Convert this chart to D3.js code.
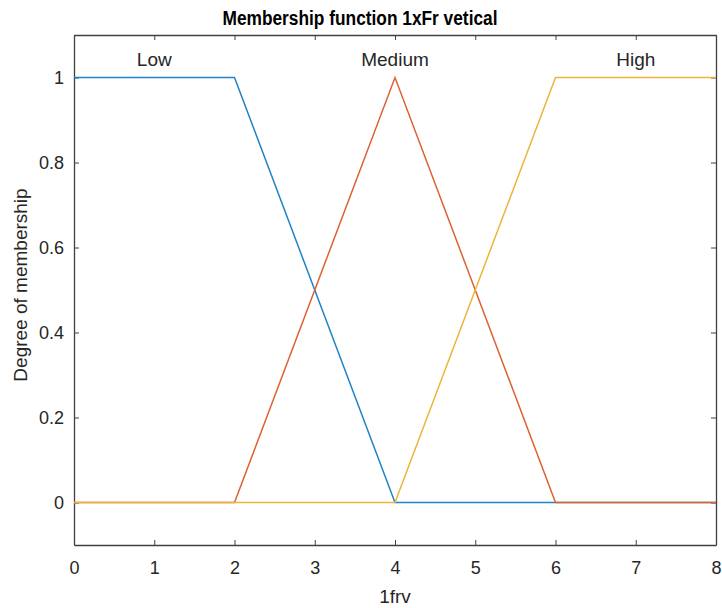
<!DOCTYPE html>
<html>
<head>
<meta charset="utf-8">
<script src="https://cdn.jsdelivr.net/npm/d3@7"></script>
<style>
  body { margin: 0; background: #fff; }
  text { font-family: "Liberation Sans", Arial, sans-serif; fill: #262626; }
</style>
</head>
<body>
<svg width="722" height="608"></svg>
<script>
var mfNames = ["Low", "Medium", "High"];
var mfColors = ["#1F83C9", "#DE6130", "#EDB43A"];
var mfLabelX = [1, 4, 7];
var lowPts = [[0, 1], [2, 1], [4, 0], [8, 0]];
var medPts = [[0, 0], [2, 0], [4, 1], [6, 0], [8, 0]];
var highPts = [[0, 0], [4, 0], [6, 1], [8, 1]];
var xTicks = [0, 1, 2, 3, 4, 5, 6, 7, 8];
var yTicks = [0, 0.2, 0.4, 0.6, 0.8, 1];

var svg = d3.select("svg"),
    margin = {top: 35, right: 6, bottom: 63, left: 74},
    width = +svg.attr("width") - margin.left - margin.right,
    height = +svg.attr("height") - margin.top - margin.bottom;

var g = svg.append("g").attr("transform", "translate(" + margin.left + "," + margin.top + ")");

var x = d3.scaleLinear().domain([0, 8]).range([0, width]);
var y = d3.scaleLinear().domain([-0.1, 1.1]).range([height, 0]);

function styleAxis(sel) {
  sel.selectAll("path").attr("stroke", "#404040").attr("stroke-width", 1.3);
  sel.selectAll("line").attr("stroke", "#404040");
  sel.selectAll("text").attr("font-size", 18).attr("fill", "#262626")
    .style("font-family", "'Liberation Sans', Arial, sans-serif");
}

g.append("g")
    .attr("transform", "translate(0," + height + ")")
    .call(d3.axisBottom(x).tickValues(xTicks).tickFormat(d3.format("d")).tickSizeInner(-5).tickSizeOuter(0).tickPadding(16))
    .call(styleAxis);
g.append("g")
    .call(d3.axisTop(x).tickValues(xTicks).tickFormat("").tickSizeInner(-5).tickSizeOuter(0))
    .call(styleAxis);
g.append("g")
    .call(d3.axisLeft(y).tickValues(yTicks).tickFormat(function(d) { return d3.format("~g")(d); }).tickSizeInner(-5).tickSizeOuter(0).tickPadding(10))
    .call(styleAxis);
g.append("g")
    .attr("transform", "translate(" + width + ",0)")
    .call(d3.axisRight(y).tickValues(yTicks).tickFormat("").tickSizeInner(-5).tickSizeOuter(0))
    .call(styleAxis);

var line = d3.line().x(function(d) { return x(d[0]); }).y(function(d) { return y(d[1]); });

[lowPts, medPts, highPts].forEach(function(pts, i) {
  g.append("path")
      .datum(pts)
      .attr("fill", "none")
      .attr("stroke", mfColors[i])
      .attr("stroke-width", 1.5)
      .attr("d", line);
});

g.selectAll(".mflabel")
  .data(mfNames)
  .enter().append("text")
    .attr("class", "mflabel")
    .attr("x", function(d, i) { return x(mfLabelX[i]); })
    .attr("y", 66 - margin.top)
    .attr("text-anchor", "middle")
    .attr("font-size", 19)
    .text(function(d) { return d; });

svg.append("text")
    .attr("x", 360)
    .attr("y", 25)
    .attr("text-anchor", "middle")
    .attr("font-size", 20)
    .attr("font-weight", "bold")
    .attr("textLength", 275)
    .attr("lengthAdjust", "spacingAndGlyphs")
    .style("fill", "#000")
    .text("Membership function 1xFr vetical");

svg.append("text")
    .attr("x", margin.left + width / 2)
    .attr("y", 603)
    .attr("text-anchor", "middle")
    .attr("font-size", 19)
    .text("1frv");

svg.append("text")
    .attr("transform", "translate(27," + 285 + ") rotate(-90)")
    .attr("text-anchor", "middle")
    .attr("font-size", 19)
    .text("Degree of membership");
</script>
</body>
</html>
